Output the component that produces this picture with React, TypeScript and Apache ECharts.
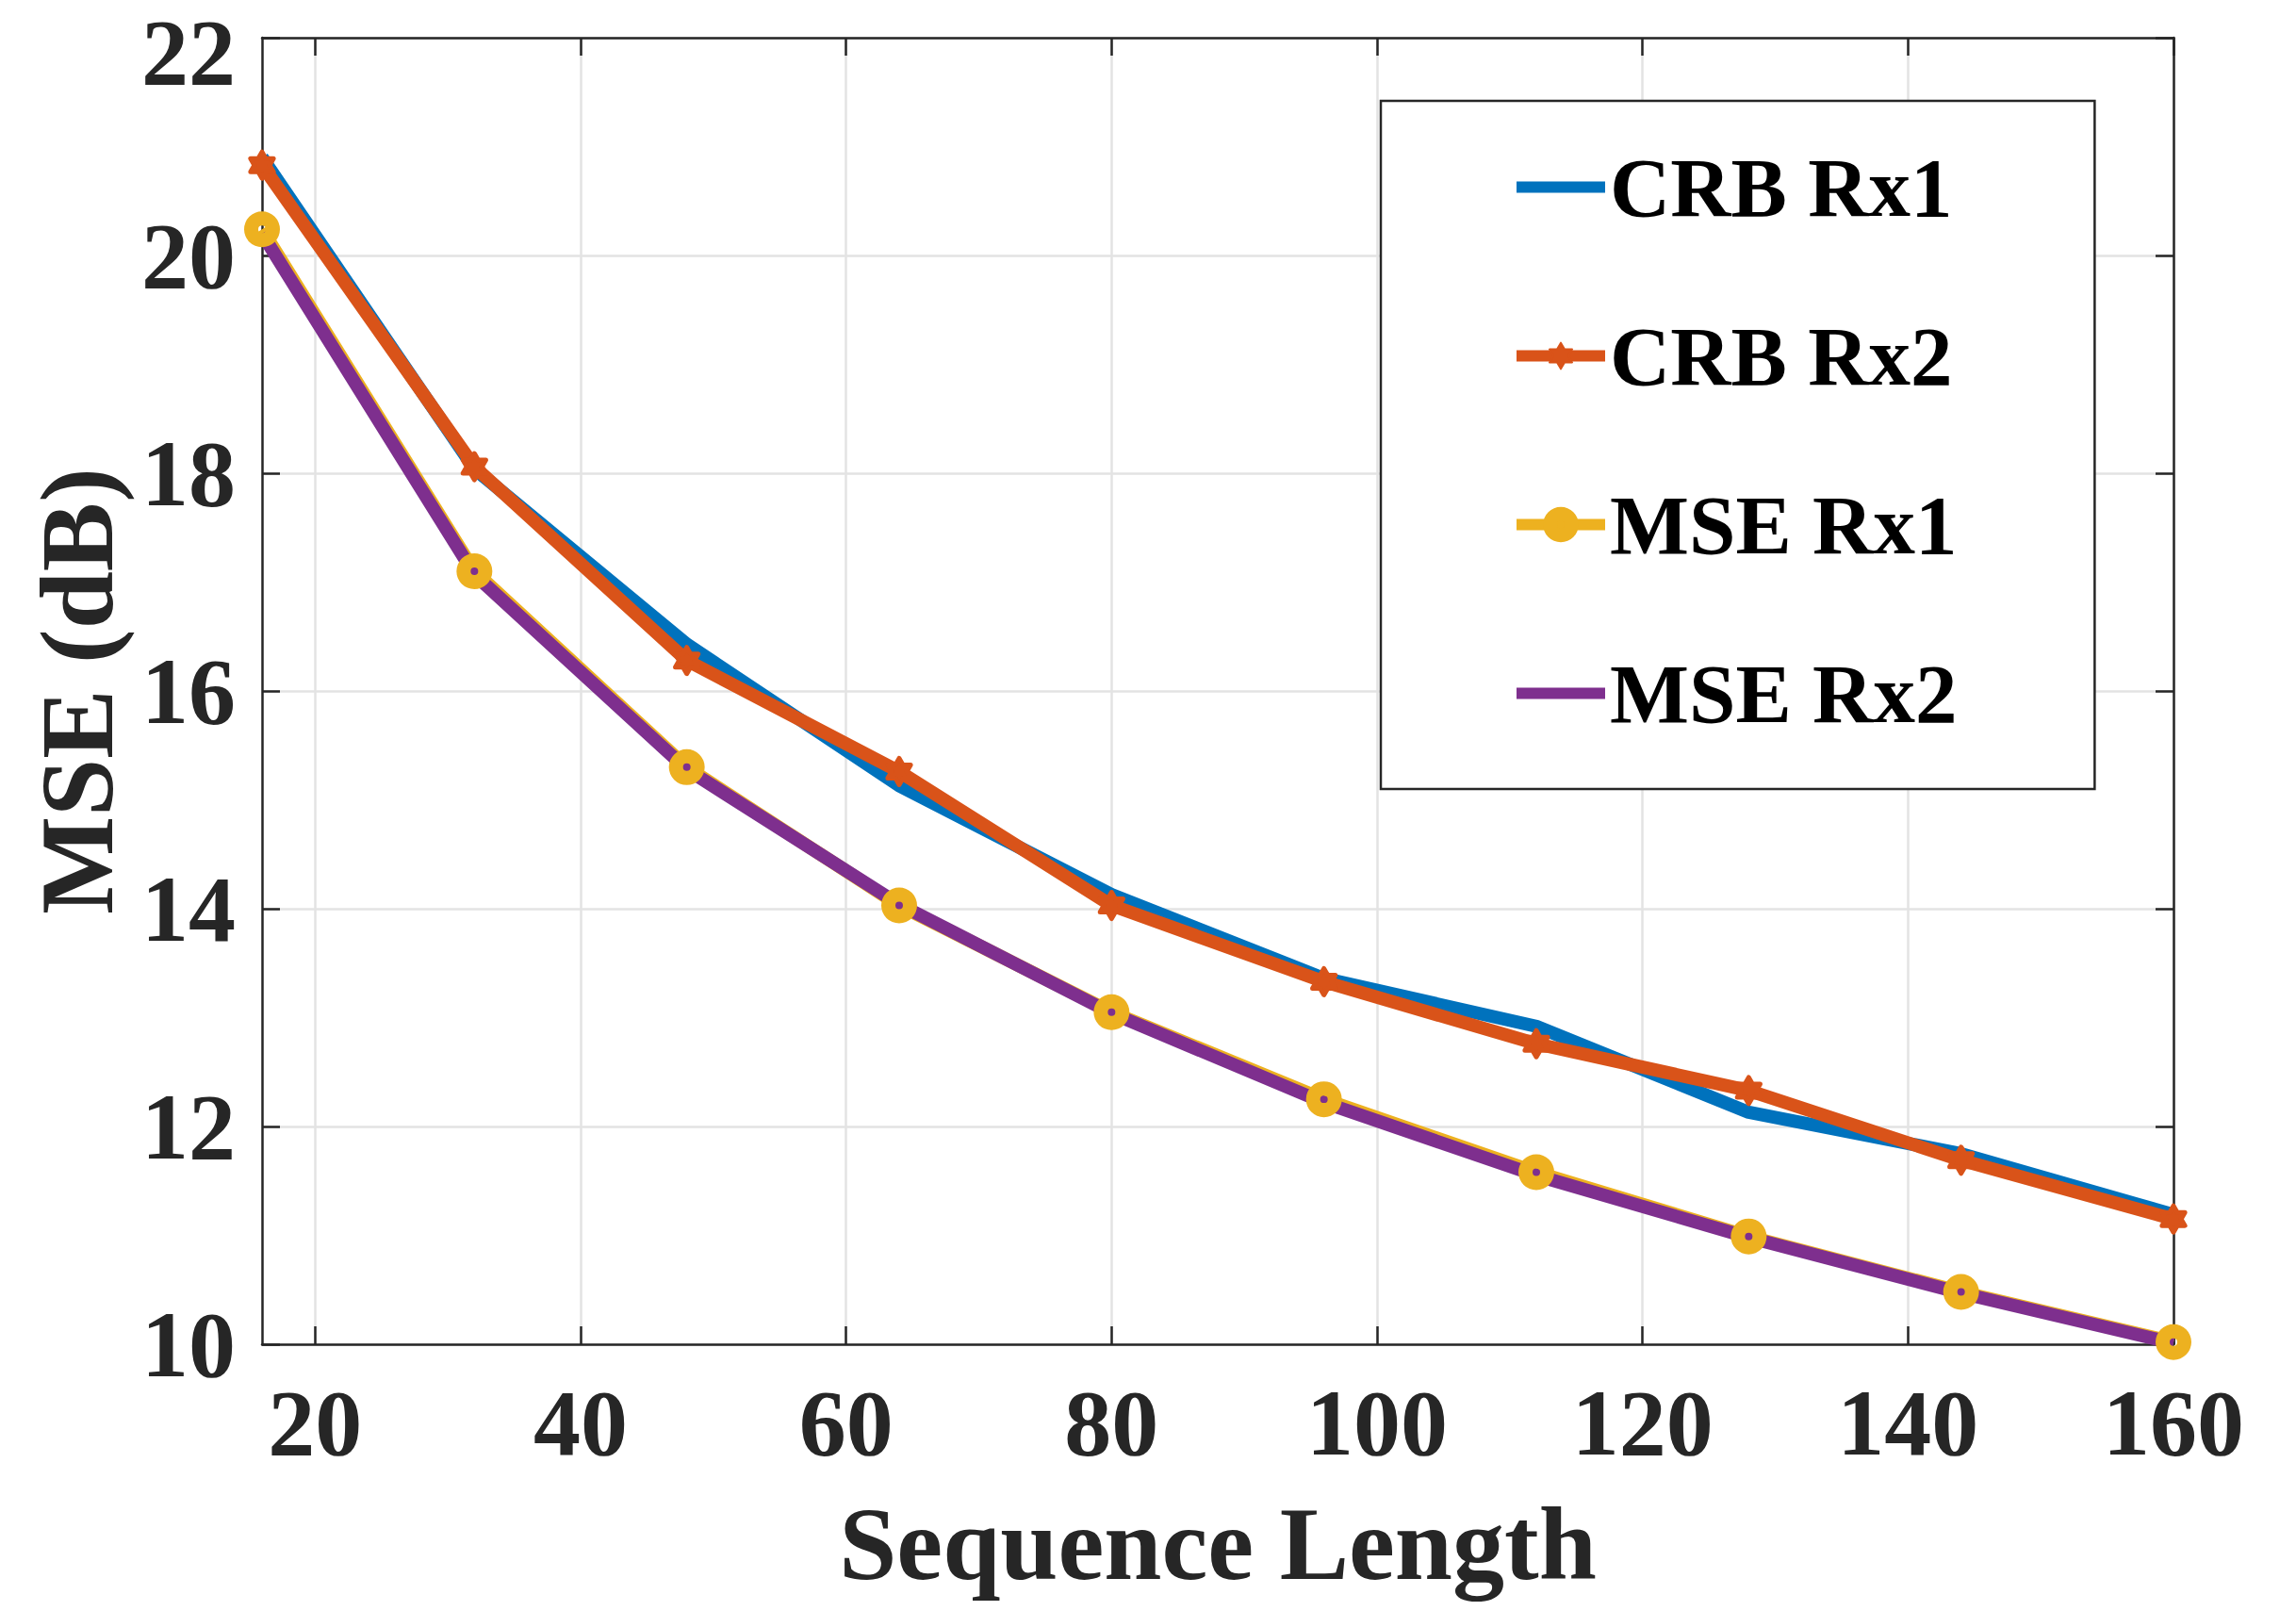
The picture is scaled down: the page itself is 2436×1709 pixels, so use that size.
import React, { useEffect, useRef } from "react";
import * as echarts from "echarts";

// Sequence lengths on the x axis
const seqLength = [16, 32, 48, 64, 80, 96, 112, 128, 144, 160];

// Bound and estimate curves (dB)
const crbRx1 = [20.9, 18.04, 16.43, 15.13, 14.13, 13.36, 12.92, 12.13, 11.75, 11.19];
const crbRx2 = [20.83, 18.06, 16.28, 15.26, 14.03, 13.33, 12.76, 12.33, 11.69, 11.15];
const mseRx1 = [20.24, 17.1, 15.3, 14.03, 13.05, 12.25, 11.58, 10.99, 10.48, 10.02];
const mseRx2 = [20.2, 17.07, 15.28, 14.04, 13.04, 12.22, 11.55, 10.98, 10.47, 10.01];

const seriesNames = ["CRB Rx1", "CRB Rx2", "MSE Rx1", "MSE Rx2"];
const seriesColors = ["#0072BD", "#D95319", "#EDB120", "#7E2F8E"];

// Axis ticks
const xTicks = [20, 40, 60, 80, 100, 120, 140, 160];
const yMin = 10;
const yMax = 22;
const yStep = 2;

const FONT = "Liberation Serif";
const AXIS_COLOR = "#262626";
const LINE_W = 14;

// Six-pointed star (with padding points so the star sits inside a larger box)
const HEXAGRAM =
  "path://M-19,-19M19,19M0,-14L4.04,-7L12.12,-7L8.08,0L12.12,7L4.04,7L0,14L-4.04,7L-12.12,7L-8.08,0L-12.12,-7L-4.04,-7Z";
// Thick circle with a small hole in the middle
const RING =
  "path://M0,-19A19,19,0,1,1,0,19A19,19,0,1,1,0,-19ZM0,-4A4,4,0,1,0,0,4A4,4,0,1,0,0,-4Z";
// Marker that draws nothing (plain lines, also in the legend)
const BLANK = "path://M-19,-19M19,19";

const pairs = (ys: number[]) => seqLength.map((x, i) => [x, ys[i]]);

export default function App() {
  const ref = useRef<HTMLDivElement>(null);

  useEffect(() => {
    if (!ref.current) return;
    const chart = echarts.init(ref.current, null, { renderer: "svg" });

    const lineSeries = (idx: number, ys: number[], symbol: string, withMarks: boolean, border = 0) => ({
      name: seriesNames[idx],
      type: "line",
      data: pairs(ys),
      symbol,
      symbolSize: 38,
      showSymbol: withMarks,
      clip: false,
      lineStyle: { width: LINE_W, color: seriesColors[idx] },
      itemStyle: {
        color: seriesColors[idx],
        borderColor: seriesColors[idx],
        borderWidth: border,
        borderJoin: "round",
      },
      emphasis: { disabled: true },
    });

    const tickFont = {
      fontFamily: FONT,
      fontWeight: "bold" as const,
      fontSize: 100,
      color: AXIS_COLOR,
    };

    chart.setOption({
      animation: false,
      backgroundColor: "#ffffff",
      grid: {
        left: 278,
        right: 130,
        top: 40,
        bottom: 283,
        containLabel: false,
        outerBoundsMode: "none",
      },
      legend: {
        orient: "vertical",
        left: 1465,
        top: 107,
        itemWidth: 94,
        itemHeight: 47,
        itemGap: 90,
        padding: [47, 146, 57, 138],
        borderColor: AXIS_COLOR,
        borderWidth: 2.5,
        backgroundColor: "#ffffff",
        selectedMode: false,
        lineStyle: { width: 12 },
        textStyle: {
          fontFamily: FONT,
          fontWeight: "bold",
          fontSize: 89,
          color: "#000000",
          lineHeight: 45,
        },
        data: seriesNames,
      },
      xAxis: [
        {
          type: "value",
          min: 16,
          max: 160,
          position: "bottom",
          name: "Sequence Length",
          nameLocation: "middle",
          nameGap: 157,
          nameTextStyle: { fontFamily: FONT, fontWeight: "bold", fontSize: 110, color: AXIS_COLOR },
          axisLine: { show: true, lineStyle: { color: AXIS_COLOR, width: 2.5 } },
          axisTick: { show: true, inside: true, length: 19, customValues: xTicks, lineStyle: { color: AXIS_COLOR, width: 2.5 } },
          axisLabel: { customValues: xTicks, margin: 33, ...tickFont },
          splitLine: { show: true, lineStyle: { color: "#e3e3e3", width: 2.5 } },
        },
        {
          type: "value",
          min: 16,
          max: 160,
          position: "top",
          axisLine: { show: true, onZero: false, lineStyle: { color: AXIS_COLOR, width: 2.5 } },
          axisTick: { show: true, inside: true, length: 19, customValues: xTicks, lineStyle: { color: AXIS_COLOR, width: 2.5 } },
          axisLabel: { show: false },
          splitLine: { show: false },
        },
      ],
      yAxis: [
        {
          type: "value",
          min: yMin,
          max: yMax,
          interval: yStep,
          position: "left",
          name: "MSE (dB)",
          nameLocation: "middle",
          nameGap: 141,
          nameTextStyle: { fontFamily: FONT, fontWeight: "bold", fontSize: 110, color: AXIS_COLOR },
          axisLine: { show: true, lineStyle: { color: AXIS_COLOR, width: 2.5 } },
          axisTick: { show: true, inside: true, length: 19, lineStyle: { color: AXIS_COLOR, width: 2.5 } },
          axisLabel: {
            margin: 28,
            ...tickFont,
            lineHeight: 70,
            // the top label sits a little lower so it stays inside the page
            formatter: (v: number) => (v === yMax ? `{top|${v}}` : `${v}`),
            rich: {
              top: { ...tickFont, lineHeight: 70, padding: [30, 0, 0, 0] },
            },
          },
          splitLine: { show: true, lineStyle: { color: "#e3e3e3", width: 2.5 } },
        },
        {
          type: "value",
          min: yMin,
          max: yMax,
          interval: yStep,
          position: "right",
          axisLine: { show: true, onZero: false, lineStyle: { color: AXIS_COLOR, width: 2.5 } },
          axisTick: { show: true, inside: true, length: 19, lineStyle: { color: AXIS_COLOR, width: 2.5 } },
          axisLabel: { show: false },
          splitLine: { show: false },
        },
      ],
      series: [
        lineSeries(0, crbRx1, BLANK, false),
        lineSeries(1, crbRx2, HEXAGRAM, true, 5),
        lineSeries(2, mseRx1, RING, true),
        lineSeries(3, mseRx2, BLANK, false),
      ],
    });

    return () => chart.dispose();
  }, []);

  return (
    <div
      ref={ref}
      style={{ position: "fixed", left: 0, top: 0, width: 2436, height: 1709, background: "#fff" }}
    />
  );
}
